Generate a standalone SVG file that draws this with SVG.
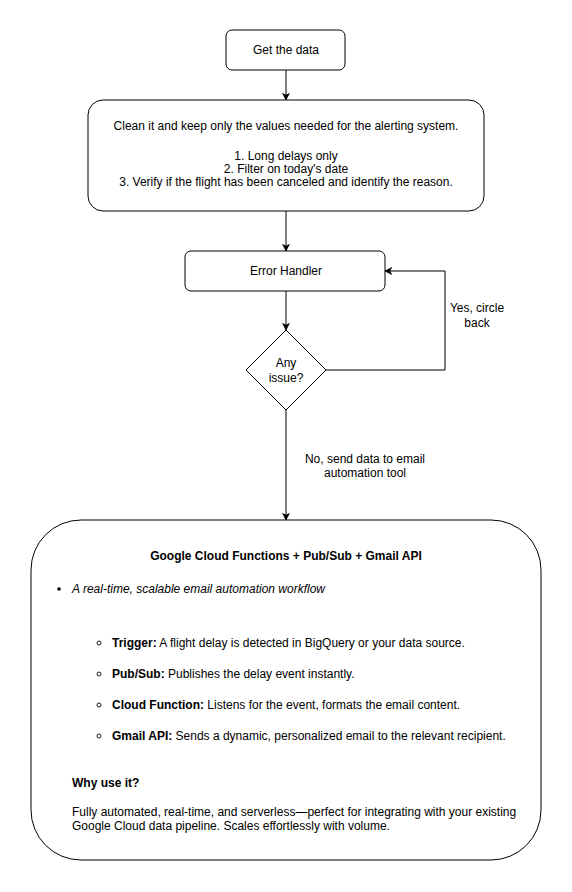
<svg xmlns="http://www.w3.org/2000/svg" width="572" height="892" viewBox="0 0 572 892">
<defs>
<style>
.box{fill:#fff;stroke:#000;stroke-width:1}
.edge{fill:none;stroke:#000;stroke-width:1}
text{font-family:"Liberation Sans",Arial,sans-serif;font-size:12px;fill:#000}
.c{text-anchor:middle}
.b{font-weight:bold}
.i{font-style:italic}
</style>
<marker id="ah" viewBox="0 0 10 10" refX="9" refY="5" markerWidth="8" markerHeight="8" markerUnits="userSpaceOnUse" orient="auto">
<path d="M0,0 L10,5 L0,10 L2.5,5 Z" fill="#000"/>
</marker>
</defs>
<rect width="572" height="892" fill="#fff"/>
<g id="connectors">
<path class="edge" d="M286,70 L286,100" marker-end="url(#ah)"/>
<path class="edge" d="M286,211 L286,251" marker-end="url(#ah)"/>
<path class="edge" d="M286,291 L286,330" marker-end="url(#ah)"/>
<path class="edge" d="M286,410 L286,520" marker-end="url(#ah)"/>
<path class="edge" d="M326,370 L445,370 L445,271 L385,271" marker-end="url(#ah)"/>
<text class="c" x="477" y="312">Yes, circle</text>
<text class="c" x="477" y="327">back</text>
<text class="c" x="365" y="463">No, send data to email</text>
<text class="c" x="365" y="477">automation tool</text>
</g>
<g id="get-data">
<rect class="box" x="226" y="30" width="119" height="40" rx="6"/>
<text class="c" x="286" y="54">Get the data</text>
</g>
<g id="clean">
<rect class="box" x="88" y="100" width="396" height="111" rx="15"/>
<text class="c" x="286" y="130">Clean it and keep only the values needed for the alerting system.</text>
<text class="c" x="286" y="160">1. Long delays only</text>
<text class="c" x="286" y="173">2. Filter on today's date</text>
<text class="c" x="286" y="186">3. Verify if the flight has been canceled and identify the reason.</text>
</g>
<g id="error-handler">
<rect class="box" x="185" y="251" width="200" height="40" rx="6"/>
<text class="c" x="286" y="275">Error Handler</text>
</g>
<g id="any-issue">
<path class="box" d="M286,330 L326,370 L286,410 L246,370 Z"/>
<text class="c" x="286" y="367">Any</text>
<text class="c" x="286" y="382">issue?</text>
</g>
<g id="email-automation">
<rect class="box" x="31" y="520" width="510" height="340" rx="50"/>
<text class="c b" x="286" y="560">Google Cloud Functions + Pub/Sub + Gmail API</text>
<circle cx="59" cy="589" r="1.8" fill="#000"/>
<text class="i" x="72" y="593">A real-time, scalable email automation workflow</text>
<circle cx="99" cy="643" r="2" fill="none" stroke="#000" stroke-width="0.9"/>
<text x="112" y="647"><tspan class="b">Trigger:</tspan> A flight delay is detected in BigQuery or your data source.</text>
<circle cx="99" cy="674" r="2" fill="none" stroke="#000" stroke-width="0.9"/>
<text x="112" y="678"><tspan class="b">Pub/Sub:</tspan> Publishes the delay event instantly.</text>
<circle cx="99" cy="705" r="2" fill="none" stroke="#000" stroke-width="0.9"/>
<text x="112" y="709"><tspan class="b">Cloud Function:</tspan> Listens for the event, formats the email content.</text>
<circle cx="99" cy="736" r="2" fill="none" stroke="#000" stroke-width="0.9"/>
<text x="112" y="740"><tspan class="b">Gmail API:</tspan> Sends a dynamic, personalized email to the relevant recipient.</text>
<text class="b" x="72" y="787">Why use it?</text>
<text x="72" y="816">Fully automated, real-time, and serverless—perfect for integrating with your existing</text>
<text x="72" y="830">Google Cloud data pipeline. Scales effortlessly with volume.</text>
</g>
</svg>
